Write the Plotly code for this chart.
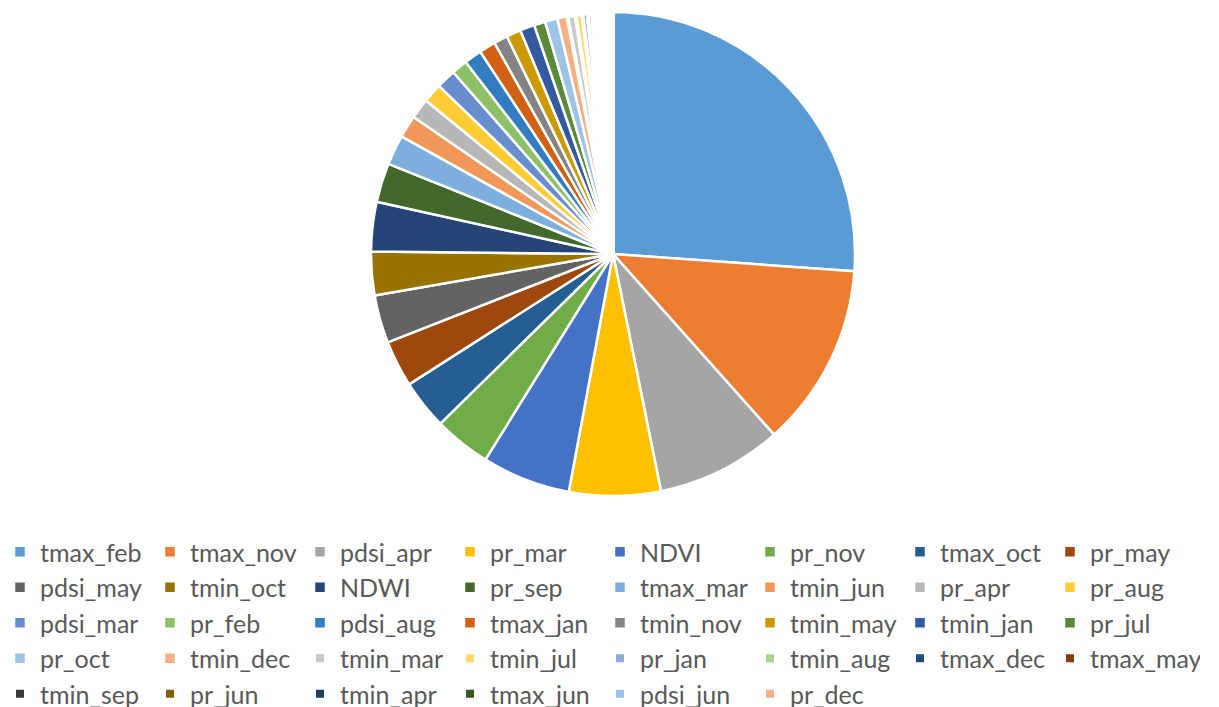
import plotly.graph_objects as go

labels = ["tmax_feb", "tmax_nov", "pdsi_apr", "pr_mar", "NDVI", "pr_nov", "tmax_oct", "pr_may",
          "pdsi_may", "tmin_oct", "NDWI", "pr_sep", "tmax_mar", "tmin_jun", "pr_apr", "pr_aug",
          "pdsi_mar", "pr_feb", "pdsi_aug", "tmax_jan", "tmin_nov", "tmin_may", "tmin_jan", "pr_jul",
          "pr_oct", "tmin_dec", "tmin_mar", "tmin_jul", "pr_jan", "tmin_aug", "tmax_dec", "tmax_may",
          "tmin_sep", "pr_jun", "tmin_apr", "tmax_jun", "pdsi_jun", "pr_dec"]

values = [26.1, 12.25, 8.4, 6.1, 5.9, 3.8, 3.3, 3.1,
          3.2, 2.9, 3.3, 2.6, 2.0, 1.5, 1.36, 1.28,
          1.3, 1.06, 1.17, 1.1, 0.92, 0.97, 0.97, 0.75,
          0.83, 0.67, 0.55, 0.45, 0.35, 0.30, 0.25, 0.22,
          0.20, 0.18, 0.16, 0.14, 0.12, 0.10]

colors = ["#5B9BD5", "#ED7D31", "#A5A5A5", "#FFC000", "#4472C4", "#70AD47",
          "#255E91", "#9E480E", "#636363", "#997300", "#264478", "#43682B",
          "#7CAFDD", "#F1975A", "#B7B7B7", "#FFCD33", "#698ED0", "#8CC168",
          "#327DC2", "#D26012", "#848484", "#CC9A00", "#335AA1", "#5A8A39",
          "#9DC3E6", "#F4B183", "#C9C9C9", "#FFD966", "#8FAADC", "#A9D18E",
          "#1F4E79", "#843C0C", "#3B3B3B", "#7F6000", "#203864", "#385723",
          "#9DC3E6", "#F4B183"]

# thin tail slices are almost swallowed by the white separators in the reference
line_widths = [2.5] * 26 + [4.0] * 12

W, H = 1219, 707
cx, cy, r = 613, 254, 242

fig = go.Figure(go.Pie(
    labels=labels,
    values=values,
    sort=False,
    direction="clockwise",
    rotation=0,
    textinfo="none",
    hoverinfo="label+percent",
    marker=dict(colors=colors, line=dict(color="white", width=line_widths)),
    domain=dict(x=[(cx - r) / W, (cx + r) / W], y=[(H - cy - r) / H, (H - cy + r) / H]),
))

fig.update_layout(
    width=W, height=H,
    margin=dict(l=0, r=0, t=0, b=0, autoexpand=False),
    paper_bgcolor="white",
    plot_bgcolor="white",
    showlegend=True,
    legend=dict(
        orientation="h",
        x=0, xanchor="left",
        y=(H - 529) / H, yanchor="top",
        entrywidth=105, entrywidthmode="pixels",
        font=dict(family="Lato", size=25, color="#595959"),
        bgcolor="rgba(0,0,0,0)",
        traceorder="normal",
    ),
)

fig.write_html("out.html", config={"displayModeBar": False},
               post_script="document.body.style.margin='0';")
